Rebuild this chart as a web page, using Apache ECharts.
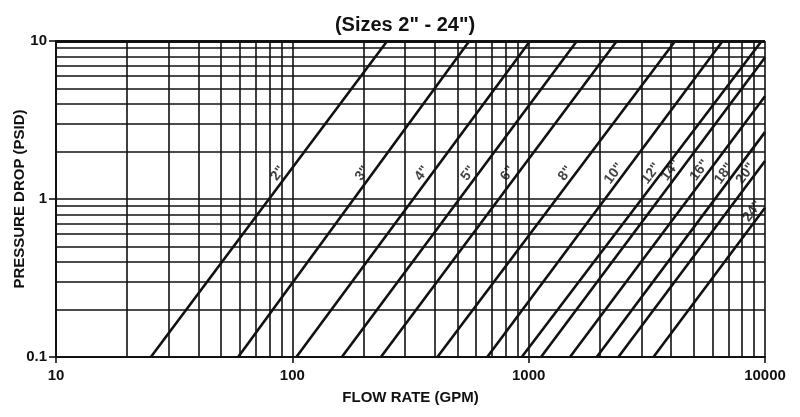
<!DOCTYPE html>
<html>
<head>
<meta charset="utf-8">
<script src="https://cdn.jsdelivr.net/npm/echarts@6/dist/echarts.min.js"></script>
<style>
html,body{margin:0;padding:0;background:#fff;}
#chart{width:800px;height:417px;}
</style>
</head>
<body>
<div id="chart"></div>
<script>
// Pipe sizes
const sizes = ['2"', '3"', '4"', '5"', '6"', '8"', '10"', '12"', '14"', '16"', '18"', '20"', '24"'];
// Flow rate (GPM) at 0.1 PSID (lower end of each line)
const flowAtLow = [25.2, 59, 104, 162, 237, 411, 668, 935, 1128, 1496, 1941, 2397, 3373];
const dropAtLow = [0.1, 0.1, 0.1, 0.1, 0.1, 0.1, 0.1, 0.1, 0.1, 0.1, 0.1, 0.1, 0.1];
// Upper end of each line (GPM, PSID)
const flowAtHigh = [252, 561, 1014, 1600, 2360, 4170, 6620, 9680, 10000, 10000, 10000, 10000, 10000];
const dropAtHigh = [10, 10, 10, 10, 10, 10, 10, 10, 7.86, 4.47, 2.65, 1.74, 0.88];
// Axis ticks
const xTicks = [10, 100, 1000, 10000];
const yTicks = [0.1, 1, 10];

const FONT = '"Liberation Sans", Arial, sans-serif';
const INK = '#111';

// minor grid values (2..9 within each decade)
const xMinor = [], yMinor = [];
for (let d = 0; d < xTicks.length - 1; d++) for (let k = 2; k <= 9; k++) xMinor.push(xTicks[d] * k);
for (let d = 0; d < yTicks.length - 1; d++) for (let k = 2; k <= 9; k++) yMinor.push(+(yTicks[d] * k).toPrecision(3));

const lineSeries = sizes.map((s, i) => ({
  type: 'line',
  name: s,
  data: [[flowAtLow[i], dropAtLow[i]], [flowAtHigh[i], dropAtHigh[i]]],
  symbol: 'none',
  lineStyle: { color: INK, width: 2.6 },
  silent: true,
  z: 5
}));

// label positions along each line, shifted a little to the left
const labelData = sizes.map((s, i) => {
  let dp = dropAtHigh[i] < 1.6 ? dropAtHigh[i] * 0.95 : (i === 8 || i === 9 ? 1.52 : 1.45);
  const l0 = Math.log10(flowAtLow[i]), l1 = Math.log10(flowAtHigh[i]);
  const p0 = Math.log10(dropAtLow[i]), p1 = Math.log10(dropAtHigh[i]);
  const t = (Math.log10(dp) - p0) / (p1 - p0);
  const q = Math.pow(10, l0 + t * (l1 - l0)) / Math.pow(10, 10 / 236.3);
  return { name: s, value: [q, dp] };
});

const gridLine = { color: INK, width: 1.6, type: 'solid' };

const option = {
  backgroundColor: '#fff',
  animation: false,
  title: {
    text: '(Sizes 2" - 24")',
    left: 400, top: 10, textAlign: 'center',
    textStyle: { fontFamily: FONT, fontWeight: 'bold', fontSize: 20, color: INK }
  },
  grid: { left: 56, right: 35, top: 41, bottom: 60, containLabel: false, outerBoundsMode: 'none' },
  xAxis: {
    type: 'log', logBase: 10, min: 10, max: 10000,
    name: 'FLOW RATE (GPM)', nameLocation: 'middle', nameGap: 33,
    nameTextStyle: { fontFamily: FONT, fontWeight: 'bold', fontSize: 15, color: INK },
    axisLine: { show: true, lineStyle: { color: INK, width: 2 } },
    axisTick: { show: true, length: 6, inside: false, lineStyle: { color: INK, width: 1.6 } },
    axisLabel: { fontFamily: FONT, fontWeight: 'bold', fontSize: 15, color: INK, margin: 11,
      formatter: v => String(v) },
    splitLine: { show: true, lineStyle: gridLine },
    minorTick: { show: false }, minorSplitLine: { show: false }
  },
  yAxis: {
    type: 'log', logBase: 10, min: 0.1, max: 10,
    name: 'PRESSURE DROP (PSID)', nameLocation: 'middle', nameGap: 29, nameRotate: 90,
    nameMoveOverlap: false,
    nameTextStyle: { fontFamily: FONT, fontWeight: 'bold', fontSize: 15, color: INK },
    axisLine: { show: true, lineStyle: { color: INK, width: 2 } },
    axisTick: { show: true, length: 7, inside: false, lineStyle: { color: INK, width: 1.6 } },
    axisLabel: { fontFamily: FONT, fontWeight: 'bold', fontSize: 15, color: INK, margin: 9,
      formatter: v => String(v) },
    splitLine: { show: true, lineStyle: gridLine },
    minorTick: { show: false }, minorSplitLine: { show: false }
  },
  series: [
    {
      type: 'line', data: [], silent: true, z: 2,
      markLine: {
        silent: true, symbol: ['none', 'none'], animation: false,
        label: { show: false },
        lineStyle: gridLine,
        data: xMinor.map(v => ({ xAxis: v })).concat(yMinor.map(v => ({ yAxis: v })))
          .concat([{ yAxis: 10, lineStyle: { color: INK, width: 3, type: 'solid' } }])
      }
    },
    ...lineSeries,
    {
      type: 'scatter', data: labelData, symbolSize: 0, silent: true, z: 10,
      label: {
        show: true, position: 'inside', rotate: 53,
        formatter: p => p.name,
        fontFamily: FONT, fontWeight: 'bold', fontSize: 14, color: INK
      }
    }
  ]
};

const chart = echarts.init(document.getElementById('chart'), null, { renderer: 'canvas' });
chart.setOption(option);
</script>
</body>
</html>
